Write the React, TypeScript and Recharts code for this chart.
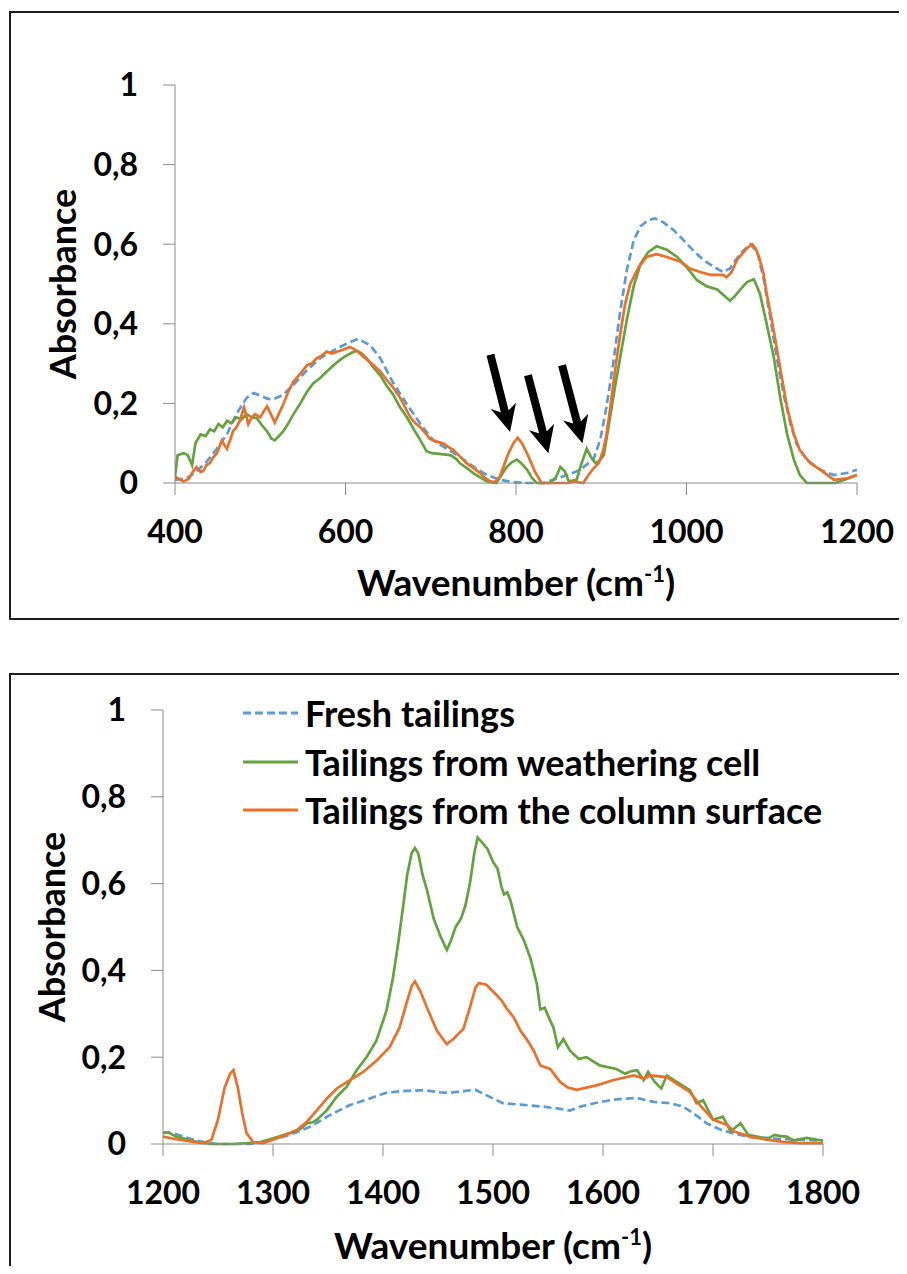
import React from 'react';
import { Legend, Line, LineChart, ReferenceLine, XAxis, YAxis } from 'recharts';

const FONT = 'Lato, "Open Sans", "DejaVu Sans", sans-serif';
const AXIS_GRAY = '#8a8a8a';

const seriesNames = ['Fresh tailings', 'Tailings from weathering cell', 'Tailings from the column surface'];
const seriesColors = ['#5B9BD5', '#63A23E', '#E8702A'];
const seriesDashes = ['8 4', undefined, undefined];

const absorbanceTicks = [0, 0.2, 0.4, 0.6, 0.8, 1];
const lowRangeTicks = [400, 600, 800, 1000, 1200];
const highRangeTicks = [1200, 1300, 1400, 1500, 1600, 1700, 1800];

// [wavenumber, absorbance]
const lowFresh: [number, number][] = [
  [400, 0.008], [414, 0.012], [425, 0.029], [437, 0.053], [449, 0.086], [461, 0.123], [472, 0.173],
  [484, 0.214], [492, 0.226], [500, 0.22], [508, 0.212], [515, 0.21], [527, 0.222], [539, 0.247],
  [555, 0.284], [570, 0.313], [586, 0.333], [601, 0.35], [615, 0.362], [629, 0.346], [641, 0.313],
  [656, 0.251], [672, 0.198], [688, 0.148], [703, 0.107], [719, 0.086], [734, 0.066], [750, 0.041],
  [766, 0.02], [781, 0.008], [797, 0.002], [813, 0], [832, 0], [844, 0.008], [860, 0.02], [875, 0.033],
  [891, 0.06], [899, 0.11], [906, 0.19], [914, 0.3], [922, 0.428], [930, 0.535], [938, 0.609],
  [946, 0.645], [955, 0.66], [963, 0.665], [973, 0.655], [985, 0.635], [997, 0.609], [1008, 0.584],
  [1020, 0.56], [1032, 0.543], [1043, 0.53], [1051, 0.539], [1063, 0.576], [1075, 0.6], [1083, 0.58],
  [1090, 0.518], [1098, 0.42], [1106, 0.313], [1114, 0.222], [1122, 0.148], [1129, 0.099],
  [1141, 0.058], [1157, 0.033], [1173, 0.02], [1188, 0.025], [1200, 0.033],
];

const lowWeathering: [number, number][] = [
  [400, 0.016], [403, 0.07], [410, 0.075], [415, 0.07], [420, 0.045], [424, 0.1], [430, 0.122],
  [436, 0.118], [441, 0.135], [446, 0.13], [451, 0.148], [456, 0.14], [461, 0.156], [466, 0.15],
  [472, 0.165], [478, 0.16], [484, 0.173], [490, 0.165], [496, 0.163], [502, 0.145], [508, 0.13],
  [513, 0.112], [517, 0.107], [522, 0.118], [527, 0.13], [533, 0.15], [539, 0.173], [547, 0.2],
  [555, 0.23], [562, 0.25], [570, 0.263], [578, 0.28], [586, 0.296], [594, 0.31], [601, 0.32],
  [608, 0.328], [613, 0.333], [619, 0.325], [625, 0.313], [633, 0.29], [641, 0.27], [648, 0.245],
  [656, 0.222], [664, 0.19], [672, 0.165], [680, 0.135], [688, 0.107], [695, 0.08], [701, 0.075],
  [707, 0.074], [715, 0.072], [723, 0.07], [730, 0.06], [734, 0.05], [742, 0.038], [750, 0.025],
  [758, 0.014], [766, 0.004], [777, 0], [783, 0.02], [789, 0.04], [795, 0.052], [801, 0.059],
  [807, 0.048], [813, 0.033], [818, 0.015], [824, 0], [840, 0], [847, 0.015], [852, 0.04], [857, 0.03],
  [862, 0.004], [871, 0.008], [877, 0.05], [883, 0.086], [888, 0.065], [893, 0.05], [898, 0.056],
  [903, 0.07], [910, 0.16], [916, 0.24], [922, 0.313], [930, 0.41], [938, 0.494], [946, 0.55],
  [955, 0.58], [965, 0.595], [977, 0.586], [989, 0.568], [1000, 0.543], [1012, 0.51], [1024, 0.494],
  [1036, 0.486], [1043, 0.473], [1051, 0.458], [1057, 0.47], [1063, 0.486], [1071, 0.505],
  [1079, 0.512], [1086, 0.477], [1094, 0.4], [1102, 0.32], [1110, 0.214], [1118, 0.123],
  [1126, 0.058], [1133, 0.02], [1141, 0], [1175, 0], [1188, 0.01], [1200, 0.02],
];

const lowColumn: [number, number][] = [
  [400, 0.016], [410, 0.004], [416, 0.01], [420, 0.025], [425, 0.04], [430, 0.028], [433, 0.03],
  [437, 0.045], [441, 0.05], [445, 0.065], [449, 0.074], [452, 0.09], [455, 0.107], [458, 0.095],
  [461, 0.086], [465, 0.11], [468, 0.13], [472, 0.14], [476, 0.156], [481, 0.19], [486, 0.148],
  [490, 0.165], [494, 0.173], [500, 0.165], [504, 0.18], [508, 0.193], [512, 0.175], [517, 0.152],
  [522, 0.175], [527, 0.198], [533, 0.23], [539, 0.255], [547, 0.275], [555, 0.296], [560, 0.3],
  [566, 0.313], [572, 0.32], [578, 0.33], [584, 0.325], [590, 0.33], [597, 0.335], [605, 0.342],
  [611, 0.335], [617, 0.325], [625, 0.31], [633, 0.296], [641, 0.28], [648, 0.26], [656, 0.24],
  [664, 0.214], [670, 0.19], [676, 0.165], [682, 0.15], [688, 0.14], [694, 0.125], [699, 0.111],
  [707, 0.104], [715, 0.099], [721, 0.09], [727, 0.082], [735, 0.065], [742, 0.05], [750, 0.038],
  [758, 0.025], [764, 0.012], [770, 0.004], [775, 0.002], [781, 0.016], [786, 0.045], [791, 0.074],
  [797, 0.1], [802, 0.114], [807, 0.1], [813, 0.074], [818, 0.05], [822, 0.029], [830, 0], [862, 0],
  [867, 0.004], [879, 0], [885, 0.02], [891, 0.037], [897, 0.05], [902, 0.08], [906, 0.12],
  [910, 0.18], [916, 0.28], [922, 0.37], [928, 0.45], [934, 0.5], [944, 0.543], [953, 0.568],
  [965, 0.575], [977, 0.568], [993, 0.556], [1004, 0.539], [1016, 0.53], [1028, 0.523], [1043, 0.523],
  [1047, 0.517], [1053, 0.53], [1059, 0.56], [1065, 0.575], [1071, 0.59], [1077, 0.6], [1081, 0.59],
  [1085, 0.568], [1090, 0.53], [1094, 0.477], [1102, 0.387], [1110, 0.288], [1118, 0.19],
  [1126, 0.123], [1133, 0.082], [1145, 0.05], [1157, 0.033], [1173, 0.008], [1188, 0.012], [1200, 0.02],
];

// [wavenumber, absorbance]
const highFresh: [number, number][] = [
  [1200, 0.027], [1209, 0.025], [1215, 0.02], [1222, 0.014], [1234, 0.006], [1249, 0], [1279, 0],
  [1290, 0.004], [1301, 0.011], [1315, 0.021], [1334, 0.04], [1352, 0.067], [1370, 0.09],
  [1388, 0.105], [1403, 0.118], [1418, 0.122], [1437, 0.124], [1452, 0.119], [1461, 0.118],
  [1473, 0.122], [1484, 0.125], [1491, 0.116], [1500, 0.105], [1509, 0.094], [1528, 0.09],
  [1546, 0.086], [1558, 0.082], [1570, 0.077], [1579, 0.086], [1594, 0.095], [1612, 0.103],
  [1631, 0.106], [1646, 0.097], [1661, 0.094], [1673, 0.086], [1682, 0.071], [1694, 0.048],
  [1706, 0.034], [1719, 0.024], [1734, 0.016], [1749, 0.014], [1764, 0.011], [1779, 0.01], [1800, 0.008],
];

const highWeathering: [number, number][] = [
  [1200, 0.025], [1205, 0.027], [1212, 0.017], [1220, 0.012], [1228, 0.006], [1243, 0], [1264, 0],
  [1288, 0.004], [1301, 0.014], [1315, 0.025], [1325, 0.035], [1331, 0.048], [1336, 0.05],
  [1340, 0.056], [1349, 0.078], [1358, 0.109], [1367, 0.132], [1376, 0.17], [1385, 0.2],
  [1394, 0.238], [1403, 0.306], [1409, 0.382], [1414, 0.466], [1418, 0.542], [1422, 0.62],
  [1426, 0.67], [1429, 0.682], [1432, 0.67], [1436, 0.62], [1440, 0.585], [1446, 0.52], [1452, 0.48],
  [1458, 0.447], [1462, 0.47], [1466, 0.5], [1471, 0.52], [1475, 0.55], [1479, 0.6], [1483, 0.67],
  [1486, 0.706], [1490, 0.695], [1495, 0.68], [1500, 0.65], [1504, 0.635], [1508, 0.59],
  [1510, 0.575], [1513, 0.58], [1516, 0.56], [1522, 0.5], [1528, 0.47], [1534, 0.428], [1540, 0.367],
  [1543, 0.31], [1547, 0.314], [1551, 0.29], [1555, 0.268], [1559, 0.223], [1564, 0.242],
  [1570, 0.215], [1578, 0.196], [1585, 0.2], [1597, 0.181], [1612, 0.173], [1620, 0.162],
  [1626, 0.168], [1631, 0.17], [1637, 0.147], [1641, 0.166], [1647, 0.143], [1653, 0.128],
  [1658, 0.158], [1667, 0.143], [1679, 0.124], [1685, 0.094], [1691, 0.101], [1700, 0.056],
  [1709, 0.063], [1716, 0.029], [1725, 0.048], [1732, 0.021], [1740, 0.017], [1749, 0.011],
  [1756, 0.021], [1762, 0.018], [1767, 0.017], [1773, 0.008], [1785, 0.014], [1794, 0.01], [1800, 0.008],
];

const highColumn: [number, number][] = [
  [1200, 0.017], [1212, 0.011], [1225, 0.006], [1237, 0.002], [1244, 0.01], [1250, 0.056],
  [1256, 0.13], [1261, 0.162], [1264, 0.17], [1268, 0.13], [1272, 0.071], [1276, 0.025],
  [1282, 0.004], [1291, 0.002], [1301, 0.011], [1312, 0.021], [1322, 0.033], [1331, 0.052],
  [1340, 0.078], [1349, 0.105], [1358, 0.128], [1370, 0.147], [1382, 0.166], [1394, 0.192],
  [1406, 0.223], [1415, 0.268], [1422, 0.33], [1426, 0.364], [1429, 0.375], [1434, 0.352],
  [1440, 0.314], [1449, 0.261], [1458, 0.23], [1464, 0.242], [1469, 0.255], [1473, 0.265],
  [1479, 0.314], [1484, 0.36], [1487, 0.371], [1494, 0.367], [1503, 0.344], [1508, 0.33],
  [1512, 0.314], [1519, 0.291], [1525, 0.261], [1531, 0.24], [1537, 0.215], [1543, 0.181],
  [1552, 0.173], [1561, 0.143], [1568, 0.13], [1576, 0.125], [1594, 0.135], [1609, 0.147],
  [1628, 0.158], [1637, 0.151], [1643, 0.158], [1658, 0.154], [1667, 0.139], [1679, 0.12],
  [1688, 0.09], [1700, 0.056], [1713, 0.044], [1719, 0.029], [1734, 0.017], [1749, 0.01],
  [1764, 0.005], [1779, 0.002], [1800, 0.002],
];

// arrows over the upper panel: [tail wavenumber, tail absorbance, tip wavenumber, tip absorbance]
const arrowMarks: [number, number, number, number][] = [
  [770, 0.322, 793, 0.128],
  [814, 0.271, 838, 0.075],
  [854, 0.296, 878, 0.1],
];

const toPoints = (pairs: [number, number][]) => pairs.map(([x, y]) => ({ x, y }));
const formatAbs = (v: number) => String(v).replace('.', ',');

function Arrow(props: any) {
  const { x1, y1, x2, y2 } = props;
  const len = Math.hypot(x2 - x1, y2 - y1);
  const ux = (x2 - x1) / len;
  const uy = (y2 - y1) / len;
  const px = -uy;
  const py = ux;
  const head = 27;
  const half = 13;
  const bx = x2 - ux * head;
  const by = y2 - uy * head;
  const nx = x2 - ux * (head - 8);
  const ny = y2 - uy * (head - 8);
  return (
    <g>
      <line x1={x1} y1={y1} x2={nx} y2={ny} stroke="#000" strokeWidth={8} />
      <polygon
        points={`${x2},${y2} ${bx + px * half},${by + py * half} ${nx},${ny} ${bx - px * half},${by - py * half}`}
        fill="#000"
      />
    </g>
  );
}

function XTitle({ viewBox, offset }: any) {
  const cx = viewBox.x + viewBox.width / 2;
  const y = viewBox.y + offset;
  return (
    <text x={cx} y={y} textAnchor="middle" fontFamily={FONT} fontWeight={700} fontSize={37} fill="#000">
      <tspan>Wavenumber (cm</tspan>
      <tspan dy={-14} fontSize={22}>-1</tspan>
      <tspan dy={14}>)</tspan>
    </text>
  );
}

function YTitle({ viewBox, offset }: any) {
  const cx = offset;
  const cy = viewBox.y + viewBox.height / 2;
  return (
    <text
      x={cx}
      y={cy}
      transform={`rotate(-90, ${cx}, ${cy})`}
      textAnchor="middle"
      dominantBaseline="central"
      fontFamily={FONT}
      fontWeight={700}
      fontSize={36}
      fill="#000"
    >
      Absorbance
    </text>
  );
}

function LegendRows({ payload }: any) {
  const rows = [...(payload || [])].sort(
    (a: any, b: any) => seriesNames.indexOf(a.value) - seriesNames.indexOf(b.value),
  );
  return (
    <div style={{ fontFamily: FONT, fontWeight: 700, fontSize: 36, color: '#000' }}>
      {rows.map((entry: any) => (
        <div key={entry.value} style={{ display: 'flex', alignItems: 'center', height: 48.5, whiteSpace: 'nowrap' }}>
          <svg width={62} height={8} style={{ flex: 'none' }}>
            <line
              x1={0}
              y1={4}
              x2={55}
              y2={4}
              stroke={entry.color}
              strokeWidth={3}
              strokeDasharray={seriesDashes[seriesNames.indexOf(entry.value)]}
            />
          </svg>
          <span>{entry.value}</span>
        </div>
      ))}
    </div>
  );
}

const tickStyle = { fill: '#000', fontSize: 32, fontWeight: 700, fontFamily: FONT };

function SpectrumPanel({
  top,
  height,
  plotTop,
  plotBottom,
  plotLeft,
  plotRight,
  domain,
  ticks,
  series,
  titleOffset,
  yTitleX,
  withLegend,
  arrows,
}: {
  top: number;
  height: number;
  plotTop: number;
  plotBottom: number;
  plotLeft: number;
  plotRight: number;
  domain: [number, number];
  ticks: number[];
  series: [number, number][][];
  titleOffset: number;
  yTitleX: number;
  withLegend?: boolean;
  arrows?: [number, number, number, number][];
}) {
  return (
    <div style={{ position: 'absolute', left: 0, top, width: 907, height }}>
      <LineChart
        width={907}
        height={height}
        margin={{ top: plotTop, right: 907 - plotRight, bottom: 0, left: 0 }}
      >
        <XAxis
          type="number"
          dataKey="x"
          domain={domain}
          ticks={ticks}
          allowDataOverflow
          height={height - plotBottom}
          tick={tickStyle}
          tickSize={12}
          tickMargin={25}
          stroke={AXIS_GRAY}
          tickLine={{ stroke: AXIS_GRAY }}
          label={(p: any) => <XTitle {...p} offset={titleOffset} />}
        />
        <YAxis
          type="number"
          dataKey="y"
          domain={[0, 1]}
          ticks={absorbanceTicks}
          width={plotLeft}
          tick={tickStyle}
          tickSize={12}
          tickMargin={25}
          tickFormatter={formatAbs}
          stroke={AXIS_GRAY}
          tickLine={{ stroke: AXIS_GRAY }}
          label={(p: any) => <YTitle {...p} offset={yTitleX} />}
        />
        {series.map((pairs, i) => (
          <Line
            key={seriesNames[i]}
            name={seriesNames[i]}
            data={toPoints(pairs)}
            dataKey="y"
            type="linear"
            stroke={seriesColors[i]}
            strokeWidth={2.7}
            strokeDasharray={seriesDashes[i]}
            dot={false}
            activeDot={false}
            isAnimationActive={false}
          />
        ))}
        {(arrows || []).map(([ax, ay, bx, by], i) => (
          <ReferenceLine
            key={i}
            segment={[
              { x: ax, y: ay },
              { x: bx, y: by },
            ]}
            shape={Arrow}
            ifOverflow="visible"
          />
        ))}
        {withLegend && (
          <Legend
            layout="vertical"
            align="center"
            verticalAlign="middle"
            content={LegendRows}
            wrapperStyle={{ left: 243, top: 49, width: 660, height: 150 }}
          />
        )}
      </LineChart>
    </div>
  );
}

export default function App() {
  return (
    <div
      style={{
        position: 'relative',
        width: 907,
        height: 1274,
        margin: -8,
        overflow: 'hidden',
        background: '#fff',
      }}
    >
      <div
        style={{
          position: 'absolute',
          left: 9,
          top: 11,
          width: 940,
          height: 609,
          border: '2px solid #1c1c1c',
          boxSizing: 'border-box',
        }}
      />
      <div
        style={{
          position: 'absolute',
          left: 9,
          top: 673,
          width: 940,
          height: 700,
          border: '2px solid #1c1c1c',
          boxSizing: 'border-box',
        }}
      />
      <SpectrumPanel
        top={0}
        height={640}
        plotTop={85}
        plotBottom={483}
        plotLeft={175}
        plotRight={857}
        domain={[400, 1200]}
        ticks={lowRangeTicks}
        series={[lowFresh, lowWeathering, lowColumn]}
        titleOffset={113}
        yTitleX={62}
        arrows={arrowMarks}
      />
      <SpectrumPanel
        top={640}
        height={634}
        plotTop={70}
        plotBottom={504}
        plotLeft={163}
        plotRight={823}
        domain={[1200, 1800]}
        ticks={highRangeTicks}
        series={[highFresh, highWeathering, highColumn]}
        titleOffset={115}
        yTitleX={51}
        withLegend
      />
    </div>
  );
}
